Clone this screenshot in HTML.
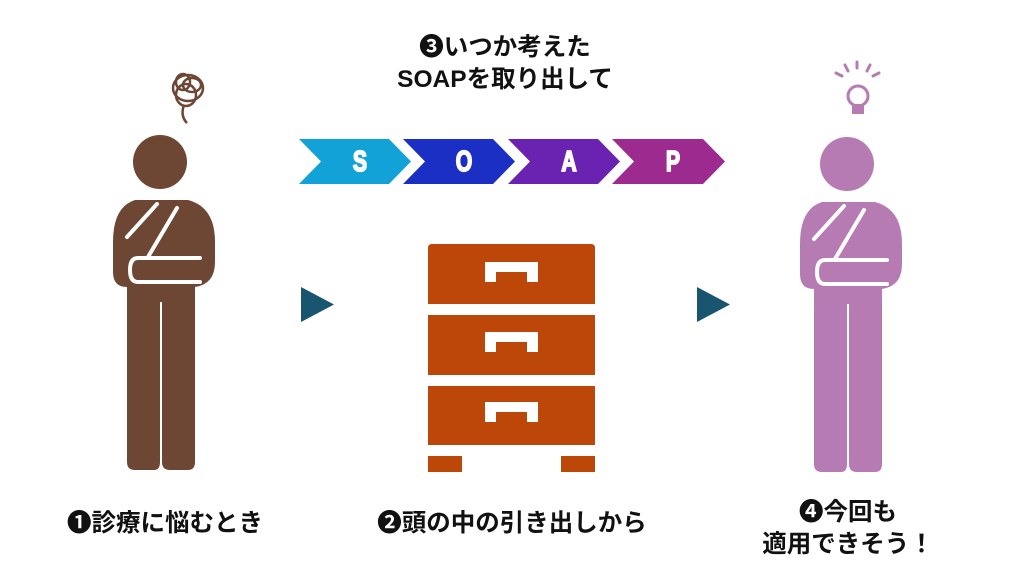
<!DOCTYPE html>
<html><head><meta charset="utf-8"><style>
html,body{margin:0;padding:0;background:#fff;}
body{width:1024px;height:576px;position:relative;overflow:hidden;font-family:"Liberation Sans","Noto Sans CJK JP",sans-serif;font-weight:bold;color:#111;}
.t{position:absolute;text-align:center;white-space:nowrap;font-size:24.5px;line-height:32px;}
.sl{font-family:"Liberation Sans",sans-serif;font-weight:bold;font-size:25px;fill:#fff;stroke:#fff;stroke-width:1.6px;}
</style></head><body>
<svg width="1024" height="576" style="position:absolute;left:0;top:0">
<defs>
<g id="fig">
<circle cx="0" cy="0" r="27"/>
<path d="M-25,38 Q-47,45 -47,80 L-47,110 Q-47,125 -33,125 L-33,300 Q-33,308 -25,308 L-6,308 Q0,308 0,300 L0,140 L2,140 L2,300 Q2,308 10,308 L28,308 Q35,308 35,300 L35,125 Q55,122 55,100 L55,80 Q55,45 28,38 Z"/>
<g fill="none" stroke="#fff" stroke-width="4" stroke-linecap="round">
<line x1="-3" y1="42" x2="-33" y2="75"/>
<line x1="17" y1="46" x2="-12" y2="95"/>
<path d="M40,96 L-22,96 Q-30,96 -30,108 Q-30,120 -22,120 L40,120"/>
</g>
</g>
</defs>
<g fill="#6e4634"><use href="#fig" transform="translate(160,162)"/></g>
<g fill="#b77bb3"><use href="#fig" transform="translate(847,164)"/></g>
<g fill="none" stroke="#6e4634" stroke-width="2.5">
<ellipse cx="188" cy="88" rx="15" ry="13"/><ellipse cx="186" cy="95" rx="10" ry="11"/><ellipse cx="192" cy="85" rx="9" ry="7"/><ellipse cx="183" cy="82" rx="7" ry="8"/>
<path d="M184,105 Q180,116 187,123"/>
</g>
<g stroke="#b77bb3" stroke-width="3" stroke-linecap="round" fill="none">
<circle cx="858" cy="96" r="10"/>
<line x1="857" y1="62" x2="857" y2="68"/><line x1="845" y1="65" x2="848" y2="71"/><line x1="870" y1="65" x2="867" y2="71"/>
<line x1="836" y1="73" x2="842" y2="76"/><line x1="879" y1="73" x2="873" y2="76"/>
</g>
<rect x="852" y="104" width="12" height="10" fill="#b77bb3"/>
<polygon points="299,139 389,139 411,161.5 389,184 299,184 321,161.5" fill="#13a2d8"/>
<polygon points="403,139 493,139 515,161.5 493,184 403,184 425,161.5" fill="#1c2fc4"/>
<polygon points="508,139 598,139 620,161.5 598,184 508,184 530,161.5" fill="#6a22b0"/>
<polygon points="612,139 703,139 725,161.5 703,184 612,184 634,161.5" fill="#9d2a8e"/>
<g text-anchor="middle">
<text class="sl" transform="translate(360,171) scale(0.85,1.15)">S</text>
<text class="sl" transform="translate(464,171) scale(0.85,1.15)">O</text>
<text class="sl" transform="translate(569,171) scale(0.85,1.15)">A</text>
<text class="sl" transform="translate(673,171) scale(0.85,1.15)">P</text>
</g>
<polygon points="301,287 334,304.5 301,322" fill="#1a5570"/>
<polygon points="697,287 730,304.5 697,322" fill="#1a5570"/>
<g fill="#bc4709">
<path d="M432,244 L591,244 Q595,244 595,248 L595,304 L428,304 L428,248 Q428,244 432,244 Z"/>
<rect x="428" y="315" width="167" height="60"/>
<rect x="428" y="386" width="167" height="59"/>
<rect x="428" y="456" width="34" height="16"/>
<rect x="561" y="456" width="34" height="16"/>
</g>
<g fill="#fff">
<path d="M485,262 H538 V282 H527 V272 H496 V282 H485 Z"/>
<path d="M485,332 H538 V352 H527 V342 H496 V352 H485 Z"/>
<path d="M485,402 H538 V422 H527 V412 H496 V422 H485 Z"/>
</g>
</svg>
<div class="t" style="left:300px;width:410px;top:32px">❸いつか考えた</div>
<div class="t" style="left:300px;width:410px;top:64px">SOAPを取り出して</div>
<div class="t" style="left:15px;width:300px;top:508px">❶診療に悩むとき</div>
<div class="t" style="left:362px;width:300px;top:508px">❷頭の中の引き出しから</div>
<div class="t" style="left:698px;width:300px;top:497px">❹今回も</div>
<div class="t" style="left:698px;width:300px;top:529px">適用できそう！</div>
</body></html>
